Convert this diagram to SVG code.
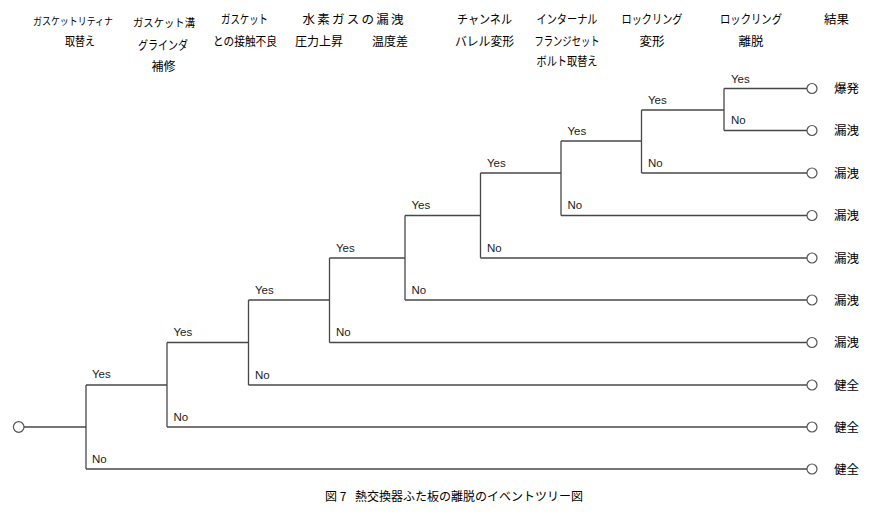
<svg xmlns="http://www.w3.org/2000/svg" width="880" height="517" viewBox="0 0 880 517">
<style>
  .ln { fill: none; stroke: #474747; stroke-width: 1.3; }
  .cir { fill: #ffffff; stroke: #555555; stroke-width: 1.2; }
  .hd { font-family: "Noto Sans CJK JP", "Noto Sans", sans-serif; font-size: 12.5px; fill: #000000; text-anchor: middle; }
  .res { font-family: "Noto Sans CJK JP", "Noto Sans", sans-serif; font-size: 12.5px; fill: #000000; }
  .yn { font-family: "Liberation Sans", Arial, sans-serif; font-size: 11.5px; fill: #1a1a1a; }
  .cap { font-family: "Noto Sans CJK JP", "Noto Sans", sans-serif; font-size: 12px; fill: #000000; }
</style>
<rect x="0" y="0" width="880" height="517" fill="#ffffff"/>

<g id="headers">
  <text class="hd" x="73" y="24.5" style="font-size:10.5px" textLength="80" lengthAdjust="spacingAndGlyphs">ガスケットリティナ</text>
  <text class="hd" x="80" y="45.5" textLength="30" lengthAdjust="spacingAndGlyphs">取替え</text>
  <text class="hd" x="164" y="27" style="font-size:11px" textLength="62" lengthAdjust="spacingAndGlyphs">ガスケット溝</text>
  <text class="hd" x="163" y="49.5" textLength="50" lengthAdjust="spacingAndGlyphs">グラインダ</text>
  <text class="hd" x="163.5" y="70.5" textLength="24" lengthAdjust="spacingAndGlyphs">補修</text>
  <text class="hd" x="244.5" y="24" textLength="47" lengthAdjust="spacingAndGlyphs">ガスケット</text>
  <text class="hd" x="245" y="45.5" textLength="64" lengthAdjust="spacingAndGlyphs">との接触不良</text>
  <text class="hd" x="353" y="24" textLength="101" lengthAdjust="spacing">水素ガスの漏洩</text>
  <text class="hd" x="319" y="45.5" textLength="48" lengthAdjust="spacingAndGlyphs">圧力上昇</text>
  <text class="hd" x="390" y="45.5" textLength="36" lengthAdjust="spacingAndGlyphs">温度差</text>
  <text class="hd" x="484.5" y="24" textLength="55" lengthAdjust="spacingAndGlyphs">チャンネル</text>
  <text class="hd" x="484.5" y="45.5" textLength="59" lengthAdjust="spacingAndGlyphs">バレル変形</text>
  <text class="hd" x="567" y="24" textLength="61" lengthAdjust="spacingAndGlyphs">インターナル</text>
  <text class="hd" x="567" y="45.5" textLength="65" lengthAdjust="spacingAndGlyphs">フランジセット</text>
  <text class="hd" x="567" y="66" textLength="61" lengthAdjust="spacingAndGlyphs">ボルト取替え</text>
  <text class="hd" x="652" y="24" textLength="61" lengthAdjust="spacingAndGlyphs">ロックリング</text>
  <text class="hd" x="652" y="45.5">変形</text>
  <text class="hd" x="751" y="24" textLength="62" lengthAdjust="spacingAndGlyphs">ロックリング</text>
  <text class="hd" x="751" y="45.5">離脱</text>
  <text class="hd" x="836.5" y="24">結果</text>
</g>

<g id="connectors">
  <path class="ln" d="M24 427 H86"/>
  <path class="ln" d="M86 385 V469"/>
  <path class="ln" d="M86 469 H807"/>
  <path class="ln" d="M86 385 H167"/>
  <path class="ln" d="M167 342.5 V427"/>
  <path class="ln" d="M167 427 H807"/>
  <path class="ln" d="M167 342.5 H248.5"/>
  <path class="ln" d="M248.5 300 V385"/>
  <path class="ln" d="M248.5 385 H807"/>
  <path class="ln" d="M248.5 300 H329.5"/>
  <path class="ln" d="M329.5 258 V342.5"/>
  <path class="ln" d="M329.5 342.5 H807"/>
  <path class="ln" d="M329.5 258 H405"/>
  <path class="ln" d="M405 215.5 V300"/>
  <path class="ln" d="M405 300 H807"/>
  <path class="ln" d="M405 215.5 H480.5"/>
  <path class="ln" d="M480.5 173 V258"/>
  <path class="ln" d="M480.5 258 H807"/>
  <path class="ln" d="M480.5 173 H561"/>
  <path class="ln" d="M561 141 V215.5"/>
  <path class="ln" d="M561 215.5 H807"/>
  <path class="ln" d="M561 141 H641.5"/>
  <path class="ln" d="M641.5 110 V173"/>
  <path class="ln" d="M641.5 173 H807"/>
  <path class="ln" d="M641.5 110 H724"/>
  <path class="ln" d="M724 88.5 V130.5"/>
  <path class="ln" d="M724 130.5 H807"/>
  <path class="ln" d="M724 88.5 H807"/>
</g>

<g id="start">
  <circle class="cir" cx="18.7" cy="427" r="5.3"/>
</g>

<g id="branch-1">
  <text class="yn" x="92" y="377.5">Yes</text>
  <text class="yn" x="92" y="463">No</text>
</g>
<g id="branch-2">
  <text class="yn" x="173.5" y="336">Yes</text>
  <text class="yn" x="173.5" y="420.5">No</text>
</g>
<g id="branch-3">
  <text class="yn" x="255" y="293.5">Yes</text>
  <text class="yn" x="255" y="378.5">No</text>
</g>
<g id="branch-4">
  <text class="yn" x="336" y="251.5">Yes</text>
  <text class="yn" x="336" y="336">No</text>
</g>
<g id="branch-5">
  <text class="yn" x="411.5" y="209">Yes</text>
  <text class="yn" x="411.5" y="293.5">No</text>
</g>
<g id="branch-6">
  <text class="yn" x="487" y="166.5">Yes</text>
  <text class="yn" x="487" y="251.5">No</text>
</g>
<g id="branch-7">
  <text class="yn" x="567.5" y="134.5">Yes</text>
  <text class="yn" x="567.5" y="209">No</text>
</g>
<g id="branch-8">
  <text class="yn" x="648" y="103.5">Yes</text>
  <text class="yn" x="648" y="166.5">No</text>
</g>
<g id="branch-9">
  <text class="yn" x="731" y="82.5">Yes</text>
  <text class="yn" x="731" y="124">No</text>
</g>

<g id="outcome-1"><circle class="cir" cx="812" cy="88.5" r="5"/><text class="res" x="834" y="93">爆発</text></g>
<g id="outcome-2"><circle class="cir" cx="812" cy="130.5" r="5"/><text class="res" x="834" y="135">漏洩</text></g>
<g id="outcome-3"><circle class="cir" cx="812" cy="173" r="5"/><text class="res" x="834" y="177.5">漏洩</text></g>
<g id="outcome-4"><circle class="cir" cx="812" cy="215.5" r="5"/><text class="res" x="834" y="220">漏洩</text></g>
<g id="outcome-5"><circle class="cir" cx="812" cy="258" r="5"/><text class="res" x="834" y="262.5">漏洩</text></g>
<g id="outcome-6"><circle class="cir" cx="812" cy="300" r="5"/><text class="res" x="834" y="304.5">漏洩</text></g>
<g id="outcome-7"><circle class="cir" cx="812" cy="342.5" r="5"/><text class="res" x="834" y="347">漏洩</text></g>
<g id="outcome-8"><circle class="cir" cx="812" cy="385" r="5"/><text class="res" x="834" y="389.5">健全</text></g>
<g id="outcome-9"><circle class="cir" cx="812" cy="427" r="5"/><text class="res" x="834" y="431.5">健全</text></g>
<g id="outcome-10"><circle class="cir" cx="812" cy="469" r="5"/><text class="res" x="834" y="473.5">健全</text></g>

<g id="caption">
  <text class="cap" y="500.5"><tspan x="325">図 7</tspan><tspan x="355" textLength="228" lengthAdjust="spacingAndGlyphs">熱交換器ふた板の離脱のイベントツリー図</tspan></text>
</g>
</svg>
